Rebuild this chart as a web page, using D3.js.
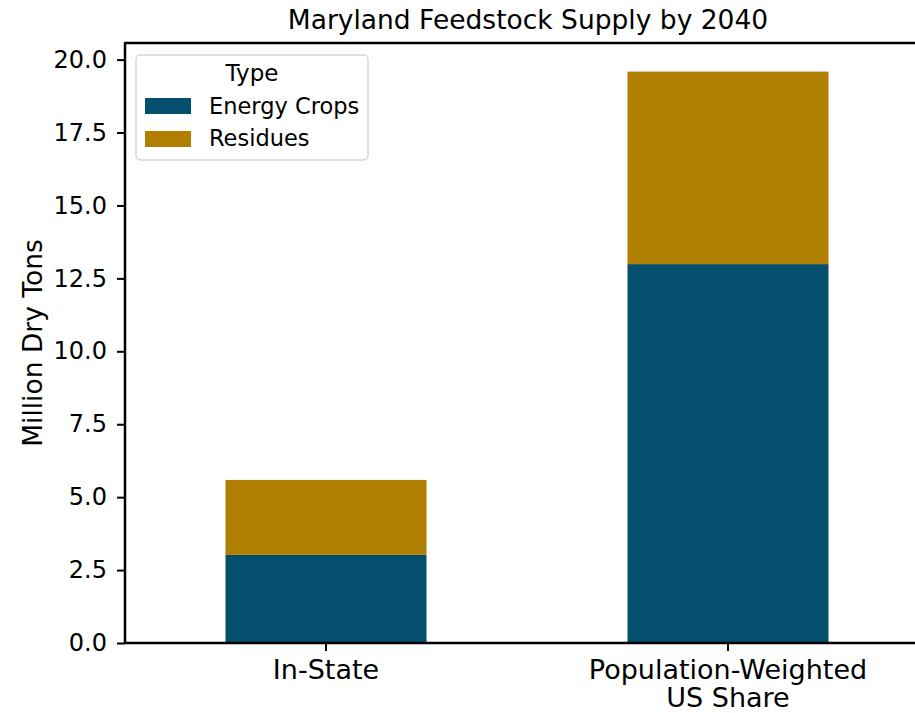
<!DOCTYPE html>
<html>
<head>
<meta charset="utf-8">
<script src="https://cdn.jsdelivr.net/npm/d3@7"></script>
<style>
  body { margin: 0; background: #fff; }
  svg { display: block; font-family: "DejaVu Sans", sans-serif; }
</style>
</head>
<body>
<svg id="chart" width="915" height="713"></svg>
<script>
const categories = [["In-State"], ["Population-Weighted", "US Share"]];
const categoryKeys = ["In-State", "Population-Weighted US Share"];
const seriesNames = ["Energy Crops", "Residues"];
const energyCrops = [3.02, 12.99];
const residues = [2.57, 6.60];
const yTicks = [0, 2.5, 5, 7.5, 10, 12.5, 15, 17.5, 20];
const colors = ["#054f6e", "#b07e00"];

const svg = d3.select("#chart");
const margin = { left: 125, top: 43, bottom: 643 };
const plotRight = 929;

const rows = categoryKeys.map((k, i) => ({ key: k, "Energy Crops": energyCrops[i], "Residues": residues[i] }));
const stacked = d3.stack().keys(seriesNames)(rows);
const maxTotal = d3.max(rows, r => r["Energy Crops"] + r["Residues"]);

const x = d3.scaleBand().domain(categoryKeys).range([margin.left, plotRight]).paddingInner(0.5).paddingOuter(0.25);
const y = d3.scaleLinear().domain([0, maxTotal * 1.05]).range([margin.bottom, margin.top]);

// bars
svg.append("g").selectAll("g").data(stacked).join("g")
  .attr("fill", (d, i) => colors[i])
  .selectAll("rect").data(d => d).join("rect")
  .attr("x", d => x(d.data.key))
  .attr("width", x.bandwidth())
  .attr("y", d => y(d[1]))
  .attr("height", d => y(d[0]) - y(d[1]));

// y axis
const yAxis = svg.append("g").attr("transform", `translate(${margin.left},0)`)
  .call(d3.axisLeft(y).tickValues(yTicks).tickFormat(d3.format(".1f")).tickSize(8).tickPadding(10));
yAxis.select(".domain").remove();
yAxis.selectAll(".tick line").attr("stroke", "#000").attr("stroke-width", 2);
yAxis.selectAll(".tick text").attr("font-size", 24).attr("fill", "#000").attr("font-family", "DejaVu Sans");

// x axis
const xAxis = svg.append("g").attr("transform", `translate(0,${margin.bottom})`)
  .call(d3.axisBottom(x).tickSize(8).tickFormat(""));
xAxis.select(".domain").remove();
xAxis.selectAll(".tick line").attr("stroke", "#000").attr("stroke-width", 2);
xAxis.selectAll(".tick").each(function(d, i) {
  categories[i].forEach((line, j) => {
    d3.select(this).append("text")
      .attr("text-anchor", "middle").attr("font-size", 27).attr("fill", "#000")
      .attr("font-family", "DejaVu Sans")
      .attr("x", 0).attr("y", 36 + j * 28)
      .text(line);
  });
});

// spines
svg.append("line").attr("x1", margin.left).attr("x2", margin.left).attr("y1", margin.top).attr("y2", margin.bottom + 1)
  .attr("stroke", "#000").attr("stroke-width", 2.5);
svg.append("line").attr("x1", margin.left - 1).attr("x2", plotRight).attr("y1", margin.bottom).attr("y2", margin.bottom)
  .attr("stroke", "#000").attr("stroke-width", 2.5);
svg.append("line").attr("x1", margin.left - 1).attr("x2", plotRight).attr("y1", margin.top).attr("y2", margin.top)
  .attr("stroke", "#000").attr("stroke-width", 2.5);

// title
svg.append("text").attr("x", 528).attr("y", 29)
  .attr("text-anchor", "middle").attr("font-size", 26.5).attr("fill", "#000")
  .text("Maryland Feedstock Supply by 2040");

// y label
svg.append("text").attr("transform", `translate(42,${(margin.top + margin.bottom) / 2}) rotate(-90)`)
  .attr("text-anchor", "middle").attr("font-size", 26.5).attr("fill", "#000")
  .text("Million Dry Tons");

// legend
const lg = svg.append("g").attr("transform", "translate(136,55)");
lg.append("rect").attr("width", 232).attr("height", 105).attr("rx", 4)
  .attr("fill", "#fff").attr("fill-opacity", 0.8).attr("stroke", "#d6d6d6").attr("stroke-width", 1.5);
lg.append("text").attr("x", 116).attr("y", 26).attr("text-anchor", "middle").attr("font-size", 23).text("Type");
seriesNames.forEach((s, i) => {
  lg.append("rect").attr("x", 9).attr("y", 43 + i * 33).attr("width", 46).attr("height", 16).attr("fill", colors[i]);
  lg.append("text").attr("x", 73).attr("y", 59 + i * 32).attr("font-size", 22.5).attr("fill", "#000").text(s);
});
</script>
</body>
</html>
